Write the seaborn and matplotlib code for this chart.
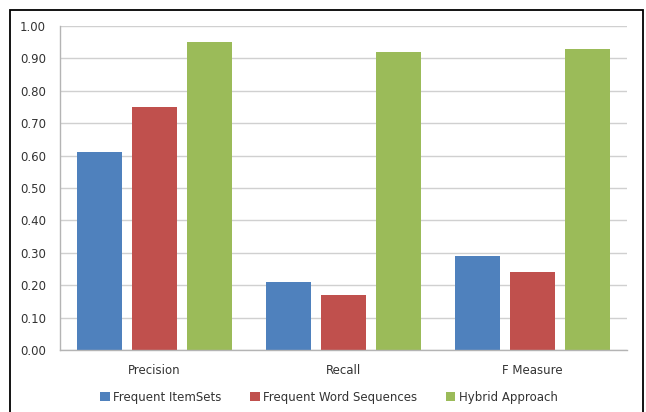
import matplotlib
matplotlib.use("Agg")
import matplotlib.pyplot as plt
from matplotlib.patches import Rectangle
import seaborn as sns
import pandas as pd

categories = ["Precision", "Recall", "F Measure"]
series_names = ["Frequent ItemSets", "Frequent Word Sequences", "Hybrid Approach"]
itemsets = [0.61, 0.21, 0.29]
word_sequences = [0.75, 0.17, 0.24]
hybrid = [0.95, 0.92, 0.93]
y_ticks = [0.0, 0.1, 0.2, 0.3, 0.4, 0.5, 0.6, 0.7, 0.8, 0.9, 1.0]

colors = ["#4F81BD", "#C0504D", "#9BBB59"]

rows = []
for name, vals in zip(series_names, [itemsets, word_sequences, hybrid]):
    for cat, v in zip(categories, vals):
        rows.append({"Metric": cat, "Method": name, "Score": v})
df = pd.DataFrame(rows)

sns.set_theme(style="white")
plt.rcParams["font.family"] = ["DejaVu Sans"]

fig = plt.figure(figsize=(6.46, 4.12), dpi=100)
ax = fig.add_axes([60 / 646, 1 - 350 / 412, (627 - 60) / 646, (350 - 26) / 412])

sns.barplot(data=df, x="Metric", y="Score", hue="Method", order=categories,
            hue_order=series_names, palette=colors, width=0.88, gap=0.19,
            saturation=1, linewidth=0, ax=ax, legend=True)

ax.set_ylim(0, 1.0)
ax.set_xlim(-0.5, 2.5)
ax.set_yticks(y_ticks)
ax.set_yticklabels([f"{t:.2f}" for t in y_ticks])
ax.set_xlabel("")
ax.set_ylabel("")
ax.yaxis.grid(True, color="#d0d0d0", linewidth=1.0)
ax.set_axisbelow(True)
for side in ["top", "right"]:
    ax.spines[side].set_visible(False)
for side in ["left", "bottom"]:
    ax.spines[side].set_color("#b4b4b4")
    ax.spines[side].set_linewidth(1.0)
ax.tick_params(axis="y", length=2, color="#b4b4b4", pad=8, labelsize=8.5, labelcolor="#333333")
ax.tick_params(axis="x", length=0, pad=10, labelsize=8.5, labelcolor="#333333")

handles, labels = ax.get_legend_handles_labels()
ax.legend_.remove()
fig.legend(handles, labels, loc="center", bbox_to_anchor=(329 / 646, 1 - 397 / 412),
           ncol=3, frameon=False, fontsize=8.5, handlelength=0.8, handleheight=0.8,
           handletextpad=0.3, columnspacing=2.4, labelcolor="#333333")

fig.patches.append(Rectangle((10 / 646, -0.05), 633 / 646, 1.05 - 10 / 412,
                             transform=fig.transFigure, fill=False,
                             edgecolor="black", linewidth=1.3, zorder=10))

fig.savefig("out.png", dpi=100)
